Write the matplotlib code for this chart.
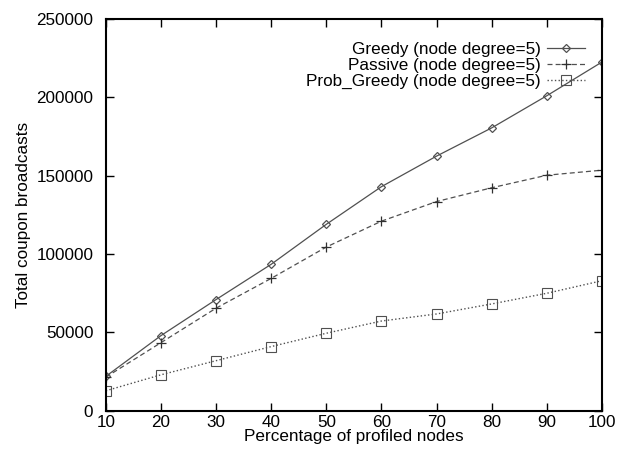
import matplotlib
matplotlib.use("Agg")
import matplotlib.pyplot as plt

# percentage of profiled nodes
pct = [10, 20, 30, 40, 50, 60, 70, 80, 90, 100]

greedy = [22000, 48000, 71000, 93500, 119000, 143000, 162500, 180500, 201000, 222500]
passive = [21500, 43500, 65500, 84500, 104500, 121000, 133500, 142300, 150300, 153500]
prob_greedy = [12800, 23000, 32000, 41000, 49500, 57300, 61800, 68200, 75000, 83000]

labels = ["Greedy (node degree=5)", "Passive (node degree=5)",
          "Prob_Greedy (node degree=5)"]

yticks = [0, 50000, 100000, 150000, 200000, 250000]
xticks = [10, 20, 30, 40, 50, 60, 70, 80, 90, 100]

plt.rcParams['font.family'] = ['Liberation Sans', 'DejaVu Sans']
fs = 12.3

fig = plt.figure(figsize=(6.19, 4.5), dpi=100)
ax = fig.add_axes([0.171, 0.087, 0.8015, 0.871])

col = "#505050"
ax.plot(pct, greedy, "-", color=col, lw=0.9, marker="D", ms=4.5,
        mfc="none", mec=col, mew=0.9, label=labels[0])
ax.plot(pct, passive, "--", color=col, lw=0.9, dashes=(4, 2.5), marker="+",
        ms=7, mec="#303030", mew=0.9, label=labels[1])
ax.plot(pct, prob_greedy, ":", color=col, lw=1.0, marker="s", ms=6.5,
        mfc="none", mec=col, mew=0.8, label=labels[2])

ax.set_xlim(10, 100)
ax.set_ylim(0, 250000)
ax.set_xticks(xticks)
ax.set_yticks(yticks)
ax.tick_params(direction="in", top=True, right=True, length=6, width=1,
               labelsize=fs)
ax.tick_params(axis="y", pad=9)
ax.tick_params(axis="x", pad=3)
for s in ax.spines.values():
    s.set_linewidth(1.5)

ax.set_xlabel("Percentage of profiled nodes", fontsize=fs, labelpad=-1)
ax.set_ylabel("Total coupon broadcasts", fontsize=fs, labelpad=4)

leg = ax.legend(loc="upper right", markerfirst=False, frameon=False,
                fontsize=fs, handlelength=2.2, handletextpad=0.4,
                labelspacing=0.05, borderaxespad=0.6,
                bbox_to_anchor=(1.0, 0.985))

fig.savefig("out.png", dpi=100)
